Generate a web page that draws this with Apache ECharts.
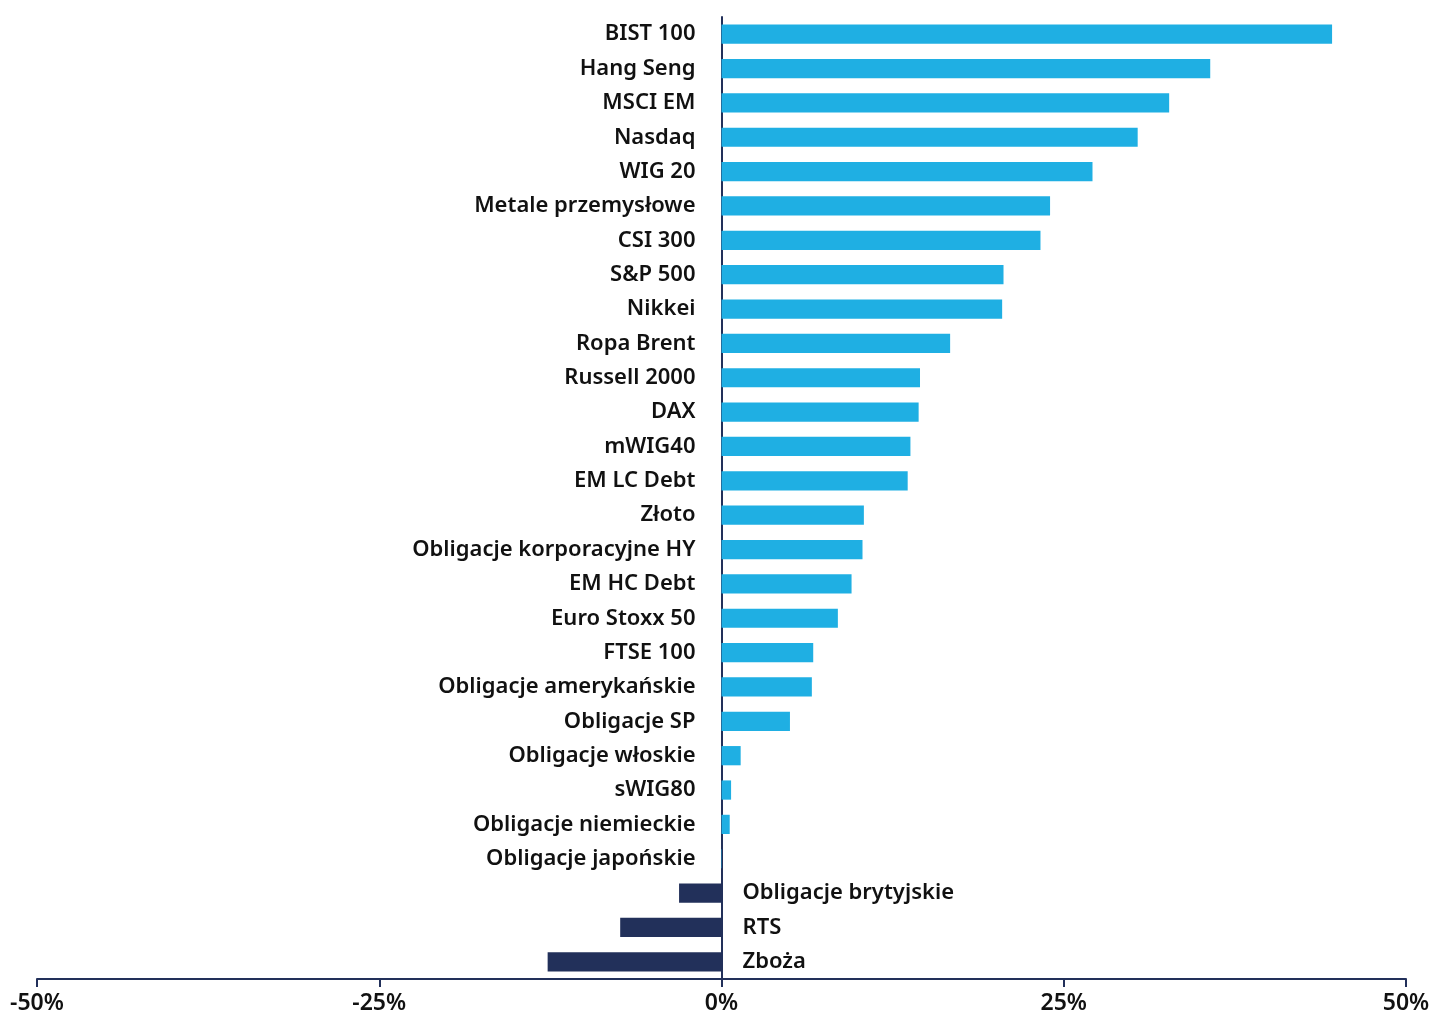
<!DOCTYPE html>
<html>
<head>
<meta charset="utf-8">
<script src="https://cdn.jsdelivr.net/npm/echarts@6/dist/echarts.min.js"></script>
<style>html,body{margin:0;padding:0;background:#fff}#c{width:1438px;height:1022px}</style>
</head>
<body>
<div id="c"></div>
<script>
const categories = ["BIST 100","Hang Seng","MSCI EM","Nasdaq","WIG 20","Metale przemysłowe","CSI 300","S&P 500","Nikkei","Ropa Brent","Russell 2000","DAX","mWIG40","EM LC Debt","Złoto","Obligacje korporacyjne HY","EM HC Debt","Euro Stoxx 50","FTSE 100","Obligacje amerykańskie","Obligacje SP","Obligacje włoskie","sWIG80","Obligacje niemieckie","Obligacje japońskie","Obligacje brytyjskie","RTS","Zboża"];
const values = [44.6,35.7,32.7,30.4,27.1,24.0,23.3,20.6,20.5,16.7,14.5,14.4,13.8,13.6,10.4,10.3,9.5,8.5,6.7,6.6,5.0,1.4,0.7,0.6,0.03,-3.1,-7.4,-12.7];
const xTicks = [-50,-25,0,25,50];

const posColor = '#1FAFE3';
const negColor = '#22305A';
const axisColor = '#22305A';
const fontFam = '"Noto Sans", sans-serif';

const data = values.map((v, i) => ({
  value: v,
  itemStyle: { color: v < 0 ? negColor : posColor },
  label: v < 0
    ? { show: true, position: 'right', distance: 21, formatter: categories[i] }
    : { show: true, position: 'left', distance: 26, formatter: categories[i] }
}));

const chart = echarts.init(document.getElementById('c'), null, { renderer: 'canvas' });
chart.setOption({
  animation: false,
  backgroundColor: '#fff',
  grid: { left: 37, right: 32, top: 17, bottom: 43, containLabel: false },
  xAxis: {
    type: 'value',
    min: xTicks[0], max: xTicks[xTicks.length - 1], interval: 25,
    axisLine: { show: true, lineStyle: { color: axisColor, width: 2 } },
    axisTick: { show: true, length: 8, lineStyle: { color: axisColor, width: 2 } },
    splitLine: { show: false },
    axisLabel: { formatter: v => v + '%', color: '#111', fontSize: 23, fontFamily: fontFam, fontWeight: 600, margin: 13 }
  },
  yAxis: {
    type: 'category', inverse: true, data: categories,
    axisLine: { show: true, onZero: true, lineStyle: { color: axisColor, width: 2 } },
    axisTick: { show: false },
    axisLabel: { show: false }
  },
  series: [{
    type: 'bar',
    data: data,
    barCategoryGap: '44%',
    label: { color: '#111', fontSize: 22, fontFamily: fontFam, fontWeight: 600 }
  }]
});
</script>
</body>
</html>
